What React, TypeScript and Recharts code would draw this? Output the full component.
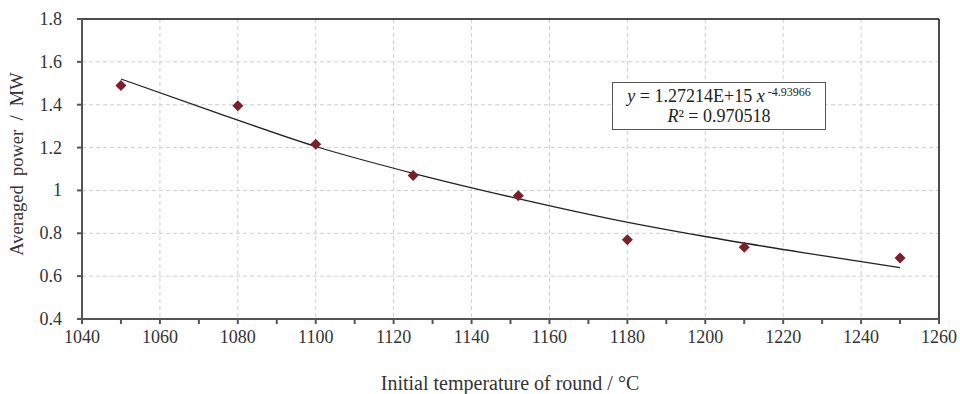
import React from 'react'
import {
  ComposedChart,
  Line,
  Scatter,
  XAxis,
  YAxis,
  CartesianGrid,
  ReferenceLine,
} from 'recharts'

const temperatures = [1050, 1080, 1100, 1125, 1152, 1180, 1210, 1250]
const powers = [1.49, 1.395, 1.215, 1.07, 0.975, 0.77, 0.735, 0.685]

// power-law trend line
const trendX = [1050, 1075, 1100, 1125, 1150, 1175, 1200, 1225, 1250]
const trendY = [1.52, 1.36, 1.205, 1.08, 0.97, 0.87, 0.785, 0.71, 0.64]

const xTicks = [1040, 1050, 1060, 1070, 1080, 1090, 1100, 1110, 1120, 1130, 1140, 1150, 1160, 1170, 1180, 1190, 1200, 1210, 1220, 1230, 1240, 1250, 1260]
const xGrid = [1060, 1080, 1100, 1120, 1140, 1160, 1180, 1200, 1220, 1240]
const yTicks = [0.4, 0.6, 0.8, 1, 1.2, 1.4, 1.6, 1.8]
const yGrid = [0.6, 0.8, 1, 1.2, 1.4, 1.6]

const points = temperatures.map((t, i) => ({ x: t, y: powers[i] }))
const trend = trendX.map((t, i) => ({ x: t, y: trendY[i] }))

const FONT = '"Liberation Serif", "Times New Roman", serif'
const MARKER = '#7b1f2a'

const Diamond = (props: any) => {
  const { cx, cy } = props
  const r = 5.5
  return (
    <polygon
      points={`${cx},${cy - r} ${cx + r},${cy} ${cx},${cy + r} ${cx - r},${cy}`}
      fill={MARKER}
    />
  )
}

const XTick = (props: any) => {
  const { x, y, payload } = props
  if (payload.value % 20 !== 0) return null
  return (
    <text x={x} y={y + 17} textAnchor="middle" fill="#333" style={{ fontSize: 18, fontFamily: FONT }}>
      {payload.value}
    </text>
  )
}

const YTick = (props: any) => {
  const { x, y, payload } = props
  const v = payload.value
  return (
    <text x={x - 13} y={y + 6} textAnchor="end" fill="#333" style={{ fontSize: 18, fontFamily: FONT }}>
      {v === 1 ? '1' : v.toFixed(1)}
    </text>
  )
}

export default function App() {
  return (
    <div style={{ position: 'absolute', left: 0, top: 0, width: 960, height: 394, background: '#fff' }}>
      <ComposedChart
        width={960}
        height={394}
        margin={{ top: 19, right: 21, bottom: 0, left: 0 }}
      >
        <CartesianGrid
          stroke="#cfcfcf"
          strokeDasharray="4 3"
          verticalValues={xGrid}
          horizontalValues={yGrid}
        />
        <XAxis
          type="number"
          dataKey="x"
          domain={[1040, 1260]}
          ticks={xTicks}
          interval={0}
          height={75}
          tick={<XTick />}
          tickSize={5}
          stroke="#555"
          strokeWidth={2}
          allowDataOverflow
        />
        <YAxis
          type="number"
          dataKey="y"
          domain={[0.4, 1.8]}
          ticks={yTicks}
          interval={0}
          width={82}
          tickSize={5}
          tick={<YTick />}
          stroke="#555"
          strokeWidth={2}
          allowDataOverflow
        />
        <ReferenceLine y={1.8} stroke="#111" strokeWidth={1.5} />
        <ReferenceLine x={1260} stroke="#111" strokeWidth={1.5} />
        <Line
          data={trend}
          dataKey="y"
          type="monotone"
          stroke="#222"
          strokeWidth={1.3}
          dot={false}
          isAnimationActive={false}
        />
        <Scatter data={points} dataKey="y" shape={<Diamond />} isAnimationActive={false} />
      </ComposedChart>
      <div
        style={{
          position: 'absolute',
          left: 17,
          top: 164,
          transform: 'translate(-50%, -50%) rotate(-90deg)',
          whiteSpace: 'nowrap',
          fontFamily: FONT,
          fontSize: 18.5,
          color: '#333',
        }}
      >
        Averaged&nbsp; power&nbsp; /&nbsp; MW
      </div>
      <div
        style={{
          position: 'absolute',
          left: 510,
          top: 383,
          transform: 'translate(-50%, -50%)',
          whiteSpace: 'nowrap',
          fontFamily: FONT,
          fontSize: 20,
          color: '#333',
        }}
      >
        Initial temperature of round / °C
      </div>
      <div
        style={{
          position: 'absolute',
          left: 612,
          top: 82,
          width: 214,
          height: 48,
          border: '1px solid #555',
          background: '#fff',
          fontFamily: FONT,
          fontSize: 18,
          color: '#222',
          textAlign: 'center',
          lineHeight: '20px',
          paddingTop: 3,
          boxSizing: 'border-box',
        }}
      >
        <div>
          <i>y</i> = 1.27214E+15 <i>x</i>
          <sup style={{ fontSize: 12, verticalAlign: 'top', lineHeight: '12px', marginLeft: 3 }}>-4.93966</sup>
        </div>
        <div>
          <i>R</i>² = 0.970518
        </div>
      </div>
    </div>
  )
}
